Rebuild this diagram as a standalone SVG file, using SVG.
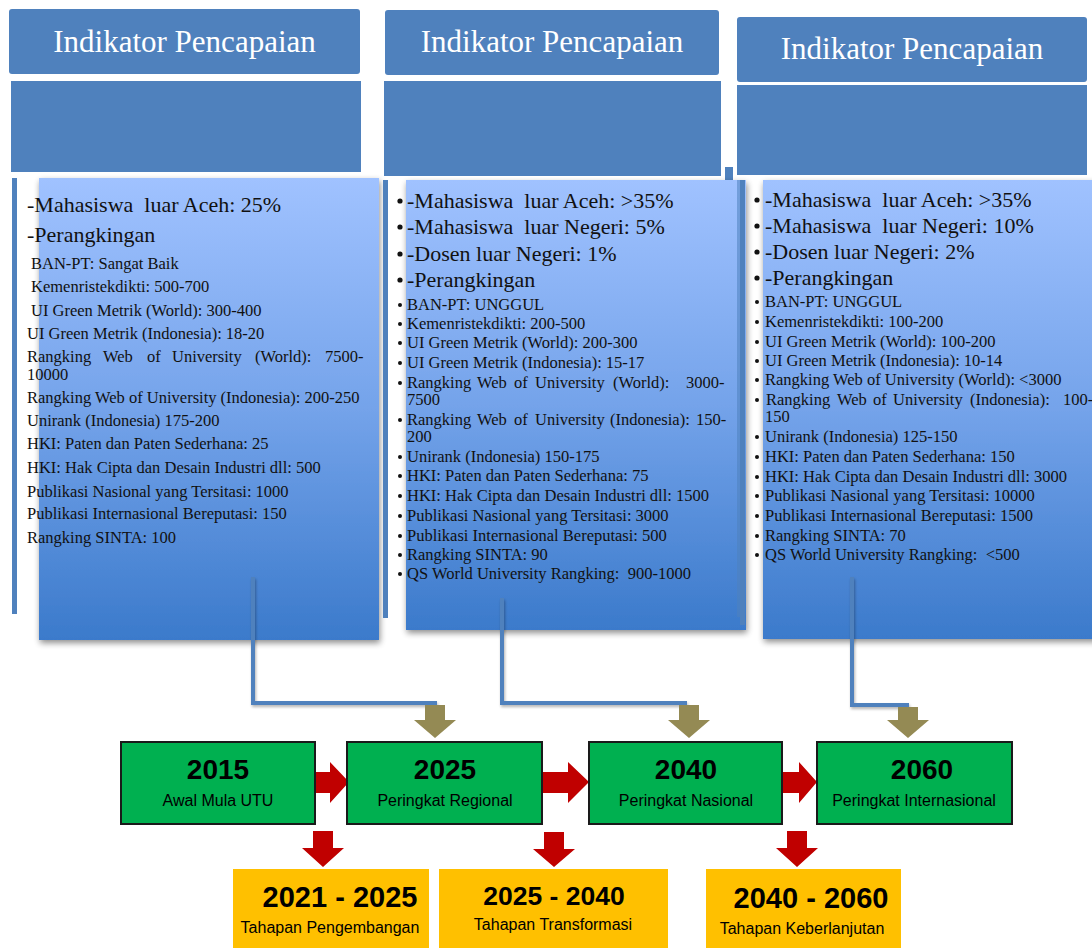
<svg xmlns="http://www.w3.org/2000/svg" width="1092" height="948" viewBox="0 0 1092 948">
<defs>
<linearGradient id="boxg" x1="0" y1="0" x2="0" y2="1">
<stop offset="0" stop-color="#A0C2FF"/>
<stop offset="0.5" stop-color="#74A3EA"/>
<stop offset="1" stop-color="#3B7ACB"/>
</linearGradient>
<filter id="sh" x="-10%" y="-10%" width="125%" height="125%">
<feGaussianBlur in="SourceAlpha" stdDeviation="3"/>
<feOffset dx="1" dy="3" result="b"/>
<feComponentTransfer><feFuncA type="linear" slope="0.45"/></feComponentTransfer>
<feMerge><feMergeNode/><feMergeNode in="SourceGraphic"/></feMerge>
</filter>
<filter id="lsh" x="-20%" y="-20%" width="140%" height="140%">
<feGaussianBlur in="SourceAlpha" stdDeviation="1.5"/>
<feOffset dx="1" dy="2"/>
<feComponentTransfer><feFuncA type="linear" slope="0.3"/></feComponentTransfer>
<feMerge><feMergeNode/><feMergeNode in="SourceGraphic"/></feMerge>
</filter>
</defs>
<style>
.hdr{fill:#4F81BD}
.hdrt{font-family:"Liberation Serif",serif;font-size:31px;fill:#fff;text-anchor:middle}
.bar{fill:#4F81BD}
.box{fill:url(#boxg)}
.big{font-family:"Liberation Serif",serif;font-size:22px;fill:#111}
.sm{font-family:"Liberation Serif",serif;font-size:16.5px;fill:#111}
.dot{fill:#111}
.conn{fill:none;stroke:#4F81BD;stroke-width:4}
.olive{fill:#948A54}
.red{fill:#C00000}
.gbox{fill:#00B050;stroke:#1a1a1a;stroke-width:2}
.ybox{fill:#FFC000}
.yr{font-family:"Liberation Sans",Arial,sans-serif;font-weight:bold;font-size:28px;fill:#000;text-anchor:middle}
.ysub{font-family:"Liberation Sans",Arial,sans-serif;font-size:16px;fill:#000;text-anchor:middle}
.yy{font-family:"Liberation Sans",Arial,sans-serif;font-weight:bold;font-size:29px;fill:#000;text-anchor:middle}
</style>

<g id="col1">
<rect class="hdr" x="9" y="9" width="351" height="65" rx="3"/>
<text class="hdrt" x="184.5" y="52">Indikator Pencapaian</text>
<rect class="hdr" x="11" y="81" width="350" height="91"/>
<rect class="bar" x="12" y="178" width="5" height="436"/>
<rect class="box" x="39" y="178" width="340" height="462" filter="url(#sh)"/>
<text class="big" x="27" y="212" xml:space="preserve">-Mahasiswa  luar Aceh: 25%</text>
<text class="big" x="27" y="242">-Perangkingan</text>
<text class="sm" x="31" y="269">BAN-PT: Sangat Baik</text>
<text class="sm" x="31" y="292">Kemenristekdikti: 500-700</text>
<text class="sm" x="31" y="316">UI Green Metrik (World): 300-400</text>
<text class="sm" x="27" y="339">UI Green Metrik (Indonesia): 18-20</text>
<text class="sm" y="362"><tspan x="27">Rangking</tspan><tspan x="103">Web</tspan><tspan x="147">of</tspan><tspan x="172">University</tspan><tspan x="255">(World):</tspan><tspan x="325">7500-</tspan></text>
<text class="sm" x="27" y="380">10000</text>
<text class="sm" x="27" y="403">Rangking Web of University (Indonesia): 200-250</text>
<text class="sm" x="27" y="426">Unirank (Indonesia) 175-200</text>
<text class="sm" x="27" y="449">HKI: Paten dan Paten Sederhana: 25</text>
<text class="sm" x="27" y="473">HKI: Hak Cipta dan Desain Industri dll: 500</text>
<text class="sm" x="27" y="497">Publikasi Nasional yang Tersitasi: 1000</text>
<text class="sm" x="27" y="519">Publikasi Internasional Bereputasi: 150</text>
<text class="sm" x="27" y="543">Rangking SINTA: 100</text>
</g>

<g id="col2">
<rect class="hdr" x="385" y="10" width="334" height="65" rx="3"/>
<text class="hdrt" x="552" y="52">Indikator Pencapaian</text>
<rect class="hdr" x="384" y="81" width="337" height="95"/>
<rect class="bar" x="725" y="167" width="8" height="13"/>
<rect class="bar" x="383" y="180" width="5" height="438"/>
<rect class="box" x="406" y="180" width="340" height="450" filter="url(#sh)"/>
<rect x="737" y="180" width="5" height="437" fill="#4F81BD" opacity="0.55"/>
<g class="dot">
<circle cx="400" cy="201" r="2.6"/><circle cx="400" cy="227" r="2.6"/><circle cx="400" cy="254" r="2.6"/><circle cx="400" cy="280" r="2.6"/>
<circle cx="400" cy="305" r="2"/><circle cx="400" cy="324" r="2"/><circle cx="400" cy="343" r="2"/><circle cx="400" cy="363" r="2"/><circle cx="400" cy="383" r="2"/>
<circle cx="400" cy="420" r="2"/><circle cx="400" cy="457" r="2"/><circle cx="400" cy="476" r="2"/><circle cx="400" cy="496" r="2"/><circle cx="400" cy="516" r="2"/><circle cx="400" cy="536" r="2"/><circle cx="400" cy="555" r="2"/><circle cx="400" cy="574" r="2"/>
</g>
<text class="big" x="407" y="208" xml:space="preserve">-Mahasiswa  luar Aceh: &gt;35%</text>
<text class="big" x="407" y="234" xml:space="preserve">-Mahasiswa  luar Negeri: 5%</text>
<text class="big" x="407" y="261">-Dosen luar Negeri: 1%</text>
<text class="big" x="407" y="287">-Perangkingan</text>
<text class="sm" x="407" y="310">BAN-PT: UNGGUL</text>
<text class="sm" x="407" y="329">Kemenristekdikti: 200-500</text>
<text class="sm" x="407" y="348">UI Green Metrik (World): 200-300</text>
<text class="sm" x="407" y="368">UI Green Metrik (Indonesia): 15-17</text>
<text class="sm" y="388"><tspan x="407">Rangking</tspan><tspan x="477">Web</tspan><tspan x="514">of</tspan><tspan x="535">University</tspan><tspan x="613">(World):</tspan><tspan x="686">3000-</tspan></text>
<text class="sm" x="407" y="405">7500</text>
<text class="sm" y="425"><tspan x="407">Rangking</tspan><tspan x="477">Web</tspan><tspan x="514">of</tspan><tspan x="535">University</tspan><tspan x="610">(Indonesia):</tspan><tspan x="696">150-</tspan></text>
<text class="sm" x="407" y="442">200</text>
<text class="sm" x="407" y="462">Unirank (Indonesia) 150-175</text>
<text class="sm" x="407" y="481">HKI: Paten dan Paten Sederhana: 75</text>
<text class="sm" x="407" y="501">HKI: Hak Cipta dan Desain Industri dll: 1500</text>
<text class="sm" x="407" y="521">Publikasi Nasional yang Tersitasi: 3000</text>
<text class="sm" x="407" y="541">Publikasi Internasional Bereputasi: 500</text>
<text class="sm" x="407" y="560">Rangking SINTA: 90</text>
<text class="sm" x="407" y="579" xml:space="preserve">QS World University Rangking:  900-1000</text>
</g>

<g id="col3">
<rect class="hdr" x="737" y="17" width="350" height="65" rx="3"/>
<text class="hdrt" x="912" y="59">Indikator Pencapaian</text>
<rect class="hdr" x="737" y="85" width="350" height="90"/>
<rect class="bar" x="740" y="180" width="5" height="445"/>
<rect class="box" x="763" y="180" width="340" height="459" filter="url(#sh)"/>
<g class="dot">
<circle cx="757" cy="200" r="2.6"/><circle cx="757" cy="226" r="2.6"/><circle cx="757" cy="252" r="2.6"/><circle cx="757" cy="278" r="2.6"/>
<circle cx="757" cy="302" r="2"/><circle cx="757" cy="322" r="2"/><circle cx="757" cy="342" r="2"/><circle cx="757" cy="361" r="2"/><circle cx="757" cy="380" r="2"/><circle cx="757" cy="400" r="2"/>
<circle cx="757" cy="437" r="2"/><circle cx="757" cy="457" r="2"/><circle cx="757" cy="477" r="2"/><circle cx="757" cy="496" r="2"/><circle cx="757" cy="516" r="2"/><circle cx="757" cy="536" r="2"/><circle cx="757" cy="555" r="2"/>
</g>
<text class="big" x="765" y="207" xml:space="preserve">-Mahasiswa  luar Aceh: &gt;35%</text>
<text class="big" x="765" y="233" xml:space="preserve">-Mahasiswa  luar Negeri: 10%</text>
<text class="big" x="765" y="259">-Dosen luar Negeri: 2%</text>
<text class="big" x="765" y="285">-Perangkingan</text>
<text class="sm" x="765" y="307">BAN-PT: UNGGUL</text>
<text class="sm" x="765" y="327">Kemenristekdikti: 100-200</text>
<text class="sm" x="765" y="347">UI Green Metrik (World): 100-200</text>
<text class="sm" x="765" y="366">UI Green Metrik (Indonesia): 10-14</text>
<text class="sm" x="765" y="385">Rangking Web of University (World): &lt;3000</text>
<text class="sm" y="405"><tspan x="766">Rangking</tspan><tspan x="837">Web</tspan><tspan x="873">of</tspan><tspan x="893">University</tspan><tspan x="970">(Indonesia):</tspan><tspan x="1063">100-</tspan></text>
<text class="sm" x="765" y="422">150</text>
<text class="sm" x="765" y="442">Unirank (Indonesia) 125-150</text>
<text class="sm" x="765" y="462">HKI: Paten dan Paten Sederhana: 150</text>
<text class="sm" x="765" y="482">HKI: Hak Cipta dan Desain Industri dll: 3000</text>
<text class="sm" x="765" y="501">Publikasi Nasional yang Tersitasi: 10000</text>
<text class="sm" x="765" y="521">Publikasi Internasional Bereputasi: 1500</text>
<text class="sm" x="765" y="541">Rangking SINTA: 70</text>
<text class="sm" x="765" y="560" xml:space="preserve">QS World University Rangking:  &lt;500</text>
</g>

<g id="connectors">
<g filter="url(#lsh)">
<polyline class="conn" points="253,577 253,703 437,703"/>
<polyline class="conn" points="502,598 502,703 687,703"/>
<polyline class="conn" points="852,577 852,705 909,705"/>
</g>
<polygon class="olive" points="425,705 445,705 445,720 456,720 435,738 414,720 425,720"/>
<polygon class="olive" points="679,705 699,705 699,720 710,720 689,738 668,720 679,720"/>
<polygon class="olive" points="898,707 918,707 918,720 929,720 908,738 887,720 898,720"/>
<polygon class="red" points="314,772 330,772 330,762 349,782 330,803 330,793 314,793"/>
<polygon class="red" points="542,772 568,772 568,762 589,782 568,803 568,793 542,793"/>
<polygon class="red" points="782,772 799,772 799,762 817,782 799,803 799,793 782,793"/>
<polygon class="red" points="313,831 333,831 333,848 344,848 323,867 302,848 313,848"/>
<polygon class="red" points="544,832 564,832 564,849 575,849 554,867 533,849 544,849"/>
<polygon class="red" points="787,831 807,831 807,848 818,848 797,867 776,848 787,848"/>
</g>

<g id="n2015">
<rect class="gbox" x="121" y="742" width="194" height="82"/>
<text class="yr" x="218" y="779">2015</text>
<text class="ysub" x="218" y="806">Awal Mula UTU</text>
</g>
<g id="n2025">
<rect class="gbox" x="347" y="742" width="195" height="82"/>
<text class="yr" x="445" y="779">2025</text>
<text class="ysub" x="445" y="806">Peringkat Regional</text>
</g>
<g id="n2040">
<rect class="gbox" x="589" y="742" width="193" height="82"/>
<text class="yr" x="686" y="779">2040</text>
<text class="ysub" x="686" y="806">Peringkat Nasional</text>
</g>
<g id="n2060">
<rect class="gbox" x="817" y="742" width="195" height="82"/>
<text class="yr" x="922" y="779">2060</text>
<text class="ysub" x="914" y="806">Peringkat Internasional</text>
</g>

<g id="p1">
<rect class="ybox" x="233" y="869" width="196" height="79"/>
<text class="yy" x="340" y="907">2021 - 2025</text>
<text class="ysub" x="330" y="933">Tahapan Pengembangan</text>
</g>
<g id="p2">
<rect class="ybox" x="439" y="869" width="229" height="79"/>
<text class="yy" x="554" y="905" style="font-size:26.5px">2025 - 2040</text>
<text class="ysub" x="553" y="930">Tahapan Transformasi</text>
</g>
<g id="p3">
<rect class="ybox" x="706" y="869" width="195" height="79"/>
<text class="yy" x="811" y="908">2040 - 2060</text>
<text class="ysub" x="802" y="934">Tahapan Keberlanjutan</text>
</g>
</svg>
